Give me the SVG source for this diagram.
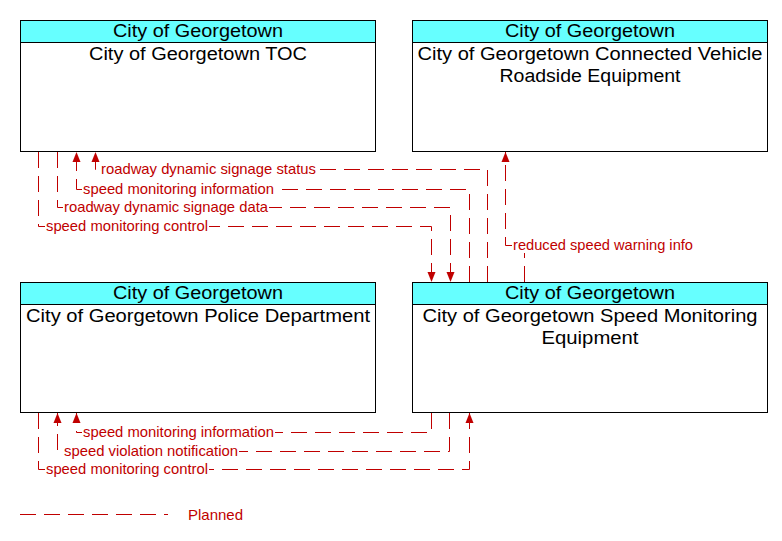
<svg xmlns="http://www.w3.org/2000/svg" width="782" height="541" viewBox="0 0 782 541">
<style>
.box{fill:#fff;stroke:#000;stroke-width:1}
.hdr{fill:#66ffff;stroke:#000;stroke-width:1}
.nt{font-family:"Liberation Sans",Arial,sans-serif;font-size:18px;fill:#000;text-anchor:middle}
.fl{fill:none;stroke:#c00000;stroke-width:1;stroke-dasharray:16 8}
.lbl{font-family:"Liberation Sans",Arial,sans-serif;font-size:15px;fill:#c00000}
.bg{fill:#fff}
</style>
<defs>
<marker id="ah" markerUnits="userSpaceOnUse" markerWidth="10" markerHeight="10" viewBox="0 0 10 10" refX="10" refY="5" orient="auto">
<path d="M0,1 L10,5 L0,9 Z" fill="#c00000"/>
</marker>
</defs>
<rect width="782" height="541" fill="#fff"/>
<g id="toc">
<rect class="box" x="20.5" y="20.5" width="355" height="131"/>
<rect class="hdr" x="20.5" y="20.5" width="355" height="22"/>
<text class="nt" x="198" y="37" textLength="170" lengthAdjust="spacingAndGlyphs">City of Georgetown</text>
<text class="nt" x="198" y="60" textLength="218" lengthAdjust="spacingAndGlyphs">City of Georgetown TOC</text>
</g>
<g id="cvrse">
<rect class="box" x="412.5" y="20.5" width="355" height="131"/>
<rect class="hdr" x="412.5" y="20.5" width="355" height="22"/>
<text class="nt" x="590" y="37" textLength="170" lengthAdjust="spacingAndGlyphs">City of Georgetown</text>
<text class="nt" x="590" y="60" textLength="345" lengthAdjust="spacingAndGlyphs">City of Georgetown Connected Vehicle</text>
<text class="nt" x="590" y="82" textLength="181" lengthAdjust="spacingAndGlyphs">Roadside Equipment</text>
</g>
<g id="police">
<rect class="box" x="20.5" y="282.5" width="355" height="130"/>
<rect class="hdr" x="20.5" y="282.5" width="355" height="22"/>
<text class="nt" x="198" y="299" textLength="170" lengthAdjust="spacingAndGlyphs">City of Georgetown</text>
<text class="nt" x="198" y="322" textLength="344" lengthAdjust="spacingAndGlyphs">City of Georgetown Police Department</text>
</g>
<g id="sme">
<rect class="box" x="412.5" y="282.5" width="355" height="130"/>
<rect class="hdr" x="412.5" y="282.5" width="355" height="22"/>
<text class="nt" x="590" y="299" textLength="170" lengthAdjust="spacingAndGlyphs">City of Georgetown</text>
<text class="nt" x="590" y="322" textLength="335" lengthAdjust="spacingAndGlyphs">City of Georgetown Speed Monitoring</text>
<text class="nt" x="590" y="344" textLength="97" lengthAdjust="spacingAndGlyphs">Equipment</text>
</g>
<g id="connectors">
<path class="fl" d="M487.5,282 V169.5 H95.5 V152" marker-end="url(#ah)"/>
<path class="fl" d="M469.5,282 V189.5 H76.5 V152" marker-end="url(#ah)"/>
<path class="fl" d="M57.5,152 V207.5 H450.5 V282" marker-end="url(#ah)"/>
<path class="fl" d="M38.5,152 V226.5 H431.5 V282" marker-end="url(#ah)"/>
<path class="fl" d="M524.5,282 V245.5 H505.5 V152" marker-end="url(#ah)"/>
<path class="fl" d="M431.5,413 V432.5 H76.5 V413" marker-end="url(#ah)"/>
<path class="fl" d="M449.5,413 V451.5 H57.5 V413" marker-end="url(#ah)"/>
<path class="fl" d="M38.5,413 V469.5 H469.5 V413" marker-end="url(#ah)"/>
<rect class="bg" x="100" y="162" width="217" height="15"/>
<rect class="bg" x="82" y="182" width="193" height="15"/>
<rect class="bg" x="63" y="200" width="206" height="15"/>
<rect class="bg" x="45" y="219" width="164" height="15"/>
<rect class="bg" x="512" y="238" width="182" height="15"/>
<rect class="bg" x="82" y="425" width="193" height="15"/>
<rect class="bg" x="63" y="444" width="176" height="15"/>
<rect class="bg" x="45" y="462" width="164" height="15"/>
<text class="lbl" x="101" y="174" textLength="215" lengthAdjust="spacingAndGlyphs">roadway dynamic signage status</text>
<text class="lbl" x="83" y="194" textLength="191" lengthAdjust="spacingAndGlyphs">speed monitoring information</text>
<text class="lbl" x="64" y="212" textLength="204" lengthAdjust="spacingAndGlyphs">roadway dynamic signage data</text>
<text class="lbl" x="46" y="231" textLength="162" lengthAdjust="spacingAndGlyphs">speed monitoring control</text>
<text class="lbl" x="513" y="250" textLength="180" lengthAdjust="spacingAndGlyphs">reduced speed warning info</text>
<text class="lbl" x="83" y="437" textLength="191" lengthAdjust="spacingAndGlyphs">speed monitoring information</text>
<text class="lbl" x="64" y="456" textLength="174" lengthAdjust="spacingAndGlyphs">speed violation notification</text>
<text class="lbl" x="46" y="474" textLength="162" lengthAdjust="spacingAndGlyphs">speed monitoring control</text>
</g>
<g id="legend">
<path class="fl" d="M20,514.5 H168"/>
<text class="lbl" x="188" y="520">Planned</text>
</g>
</svg>
